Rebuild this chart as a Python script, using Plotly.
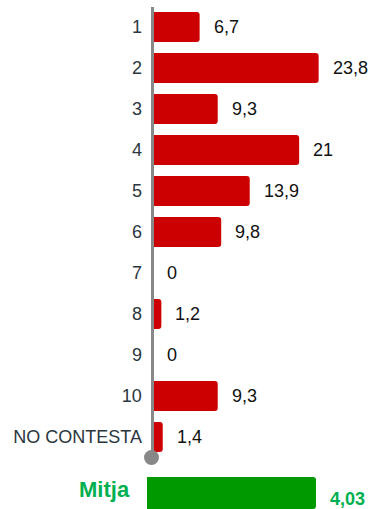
import plotly.graph_objects as go

# Survey distribution (percent) by answer, plus the mean score
categories = ["1", "2", "3", "4", "5", "6", "7", "8", "9", "10", "NO CONTESTA"]
percentages = [6.7, 23.8, 9.3, 21, 13.9, 9.8, 0, 1.2, 0, 9.3, 1.4]
mean_label = "Mitja"
mean_value = 4.03

W, H = 371, 509
RED = "#cc0000"
GREEN_BAR = "#009900"
GREEN_TEXT = "#00b050"
FONT = "Liberation Sans, Arial, sans-serif"


def fmt(v):
    return f"{v:g}".replace(".", ",")


idx = list(range(len(categories)))

fig = go.Figure()

fig.add_trace(go.Bar(
    x=percentages, y=idx, orientation="h",
    marker=dict(color=RED, line=dict(width=0)),
    width=0.73, hoverinfo="skip",
    xaxis="x", yaxis="y",
))

fig.add_trace(go.Bar(
    x=[mean_value], y=[0.5], orientation="h",
    marker=dict(color=GREEN_BAR, line=dict(width=0)),
    width=1.0, hoverinfo="skip",
    xaxis="x2", yaxis="y2",
))

annotations = []
for i, v in zip(idx, percentages):
    annotations.append(dict(
        x=v, y=i, xref="x", yref="y", text=fmt(v),
        xanchor="left", yanchor="middle", xshift=12, showarrow=False,
        font=dict(family=FONT, size=18, color="#111111"),
    ))

annotations.append(dict(
    x=104 / W, y=1 - 489 / H, xref="paper", yref="paper", text=f"<b>{mean_label}</b>",
    xanchor="center", yanchor="middle", showarrow=False,
    font=dict(family=FONT, size=22, color=GREEN_TEXT),
))
annotations.append(dict(
    x=mean_value, y=1 - 499 / H, xref="x2", yref="paper", text=f"<b>{fmt(mean_value)}</b>",
    xanchor="left", yanchor="middle", xshift=12, showarrow=False,
    font=dict(family=FONT, size=18, color=GREEN_TEXT),
))

axis_px = 151.5          # category axis line
x_zero = 153.0           # where the bars start
px_per_unit = 6.96
x2_left = 147
x2_px_per_unit = (316 - x2_left) / mean_value
axis_bottom_px = 457.5

n = len(categories)

fig.update_layout(
    width=W, height=H,
    margin=dict(l=0, r=0, t=0, b=0),
    paper_bgcolor="white", plot_bgcolor="white",
    showlegend=False,
    barcornerradius=3,
    annotations=annotations,
    shapes=[dict(
        # grey knob at the foot of the category axis
        type="circle", xref="paper", yref="paper",
        xsizemode="pixel", ysizemode="pixel",
        xanchor=axis_px / W, yanchor=1 - axis_bottom_px / H,
        x0=-7.5, x1=7.5, y0=-7.5, y1=7.5,
        fillcolor="#888888", line=dict(width=0), layer="above",
    )],
    xaxis=dict(
        domain=[x_zero / W, 1], range=[0, (W - x_zero) / px_per_unit],
        visible=False, fixedrange=True,
    ),
    yaxis=dict(
        domain=[1 - axis_bottom_px / H, 1 - 6.5 / H],
        range=[n - 0.5, -0.5],
        tickmode="array", tickvals=idx, ticktext=categories,
        ticks="outside", ticklen=5, tickcolor="rgba(0,0,0,0)",
        showline=True, linecolor="#888888", linewidth=3,
        showgrid=False, zeroline=False, automargin=False,
        tickfont=dict(family=FONT, size=18, color="#2b3640"),
        anchor="free", position=axis_px / W,
    ),
    xaxis2=dict(
        domain=[x2_left / W, 1], range=[0, (W - x2_left) / x2_px_per_unit],
        visible=False, anchor="y2",
    ),
    yaxis2=dict(
        domain=[0, 1 - 477 / H], range=[0, 1],
        visible=False, anchor="x2",
    ),
)

fig.write_html("out.html")
